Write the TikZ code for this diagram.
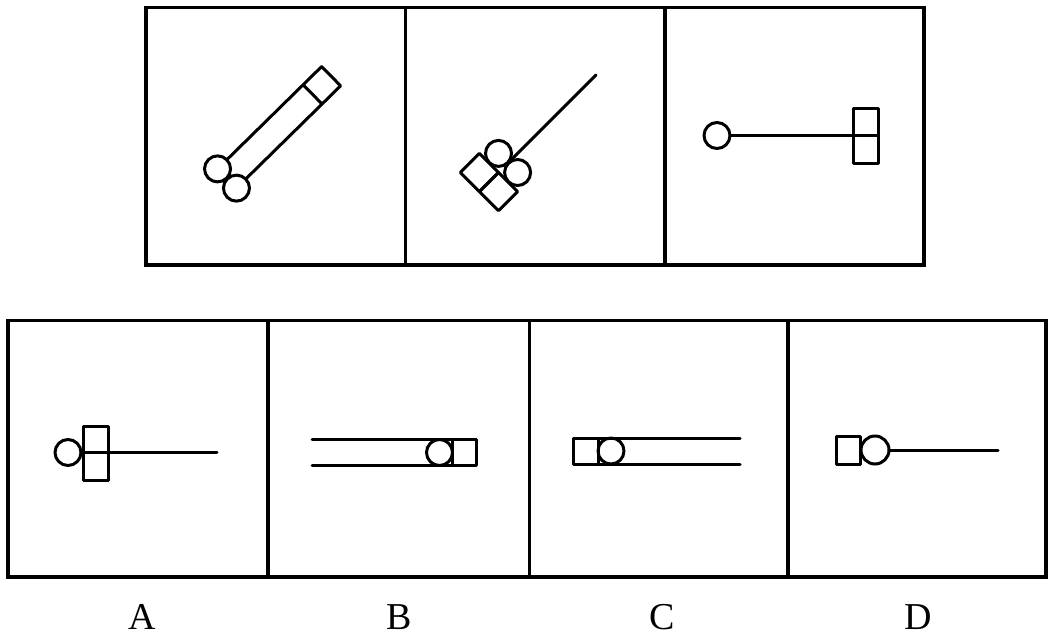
\documentclass[tikz,border=0pt]{standalone}
\usepackage{fontspec}
\setmainfont{Liberation Serif}
\begin{document}
\begin{tikzpicture}[x=1pt,y=-1pt,
  frame/.style={draw=black,line width=3.3pt},
  fig/.style={draw=black,line width=3pt,line cap=round,line join=round},
  lbl/.style={font=\fontsize{38}{40}\selectfont,anchor=base,inner sep=0pt}]
\useasboundingbox (0,0) rectangle (1048,637);
% ---------- top row ----------
\draw[frame] (146,7.5) rectangle (924,265);
\draw[frame] (405.5,7.5) -- (405.5,265);
\draw[frame] (665,7.5) -- (665,265);
% panel 1
\begin{scope}[shift={(227,178.5)},rotate=44.5]
  \draw[fig] (0,-13.5) circle (13pt);
  \draw[fig] (0,13.5) circle (13pt);
  \draw[fig] (13,-13.5) -- (120,-13.5);
  \draw[fig] (13,13.5) -- (120,13.5);
  \draw[fig] (120,-13.5) rectangle (146,13.5);
\end{scope}
% panel 2
\begin{scope}[shift={(498.5,172.5)},rotate=45]
  \draw[fig] (-27,-27) rectangle (0,0);
  \draw[fig] (-27,0) rectangle (0,27);
  \draw[fig] (13.5,-13.5) circle (13pt);
  \draw[fig] (13.5,13.5) circle (13pt);
  \draw[fig] (14,0) -- (138,0);
\end{scope}
% panel 3
\draw[fig] (717,135.5) circle (13pt);
\draw[fig] (730,135.5) -- (878,135.5);
\draw[fig] (853,108) rectangle (878,163);
% ---------- bottom row ----------
\draw[frame] (8,320.5) rectangle (1046,577);
\draw[frame] (268,320.5) -- (268,577);
\draw[frame] (529.5,320.5) -- (529.5,577);
\draw[frame] (788,320.5) -- (788,577);
% A
\draw[fig] (68,452.5) circle (13pt);
\draw[fig] (81,452.5) -- (217,452.5);
\draw[fig] (83,426) rectangle (108.5,480.5);
% B
\draw[fig] (312,439.5) -- (452.5,439.5);
\draw[fig] (312,465.5) -- (452.5,465.5);
\draw[fig] (439.5,452.5) circle (13pt);
\draw[fig] (452.5,439.5) rectangle (476,465.5);
% C
\draw[fig] (573,438) rectangle (598,464);
\draw[fig] (611,451) circle (13pt);
\draw[fig] (598,438) -- (740,438);
\draw[fig] (598,464) -- (740,464);
% D
\draw[fig] (836.5,436.5) rectangle (860,464);
\draw[fig] (875,450) circle (14pt);
\draw[fig] (889,450) -- (998,450);
% labels
\node[lbl] (la) at (142,629) {A};
\node[lbl] (lb) at (399,629) {B};
\node[lbl] (lc) at (662,629) {C};
\node[lbl] (ld) at (918,629) {D};
\end{tikzpicture}
\end{document}
